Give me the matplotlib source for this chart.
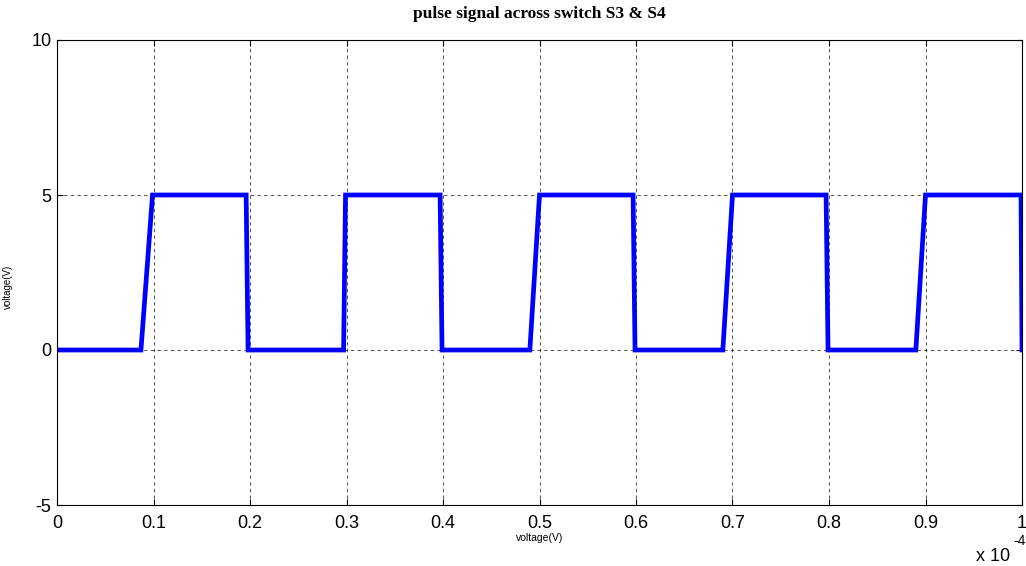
import matplotlib.pyplot as plt
import numpy as np

# pulse corners (time in units of 1e-4 s, voltage in V)
t_pts = [0, 0.087, 0.099, 0.196, 0.198, 0.297, 0.299, 0.397, 0.399,
         0.49, 0.5, 0.597, 0.599, 0.69, 0.7, 0.797, 0.799, 0.89, 0.9, 0.999, 1.0]
v_pts = [0, 0, 5, 5, 0, 0, 5, 5, 0,
         0, 5, 5, 0, 0, 5, 5, 0, 0, 5, 5, 0]
x_ticks = [0, 0.1, 0.2, 0.3, 0.4, 0.5, 0.6, 0.7, 0.8, 0.9, 1.0]
y_ticks = [-5, 0, 5, 10]

scale = 1e-4
t = np.array(t_pts) * scale

fig = plt.figure(figsize=(10.26, 5.66), dpi=100)
ax = fig.add_axes([57 / 1026, 61 / 566, 965 / 1026, 465 / 566])

ax.plot(t, v_pts, color='#0000ff', linewidth=3.4, solid_joinstyle='miter')

ax.set_xlim(0, 1.0 * scale)
ax.set_ylim(-5, 10)
ax.set_xticks([x * scale for x in x_ticks])
ax.set_xticklabels(['%g' % x for x in x_ticks])
ax.set_yticks(y_ticks)
ax.set_yticklabels([str(y) for y in y_ticks])

ax.grid(True, color='#000000', linestyle=(0, (4, 4)), linewidth=0.6, alpha=0.8)
ax.tick_params(direction='in', top=True, right=True, length=4, width=0.8,
               labelsize=13)
ax.tick_params(axis='x', pad=7)
ax.tick_params(axis='y', pad=4)
for lbl in ax.get_xticklabels() + ax.get_yticklabels():
    lbl.set_family('Liberation Sans')
for s in ax.spines.values():
    s.set_linewidth(0.8)

ax.set_title('pulse signal across switch S3 & S4', fontsize=12.5, fontweight='bold',
             family='Liberation Serif', pad=16)
ax.set_xlabel('voltage(V)', fontsize=7.5, family='Liberation Sans')
ax.xaxis.set_label_coords(0.5, -28 / 465)
ax.set_ylabel('voltage(V)', fontsize=7, family='Liberation Sans')
ax.yaxis.set_label_coords(-44 / 965, 0.47)

# exponent of the time axis
fig.text(976 / 1026, 1 - 561 / 566, 'x 10', fontsize=13, family='Liberation Sans',
         ha='left', va='baseline')
fig.text(1013 / 1026, 1 - 545 / 566, '-4', fontsize=10, family='Liberation Sans',
         ha='left', va='baseline')

fig.savefig('out.png', dpi=100)
